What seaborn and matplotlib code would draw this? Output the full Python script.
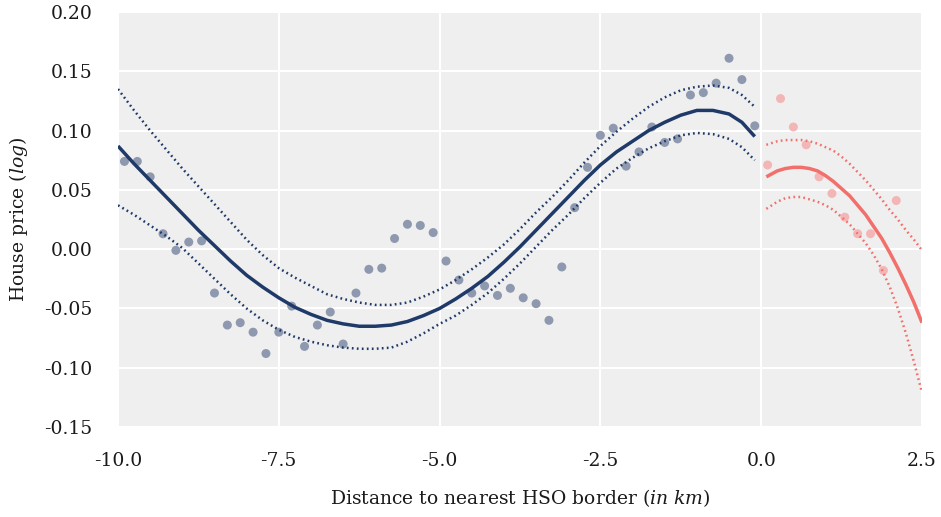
import numpy as np
import pandas as pd
import matplotlib
matplotlib.use("Agg")
import matplotlib.pyplot as plt
import seaborn as sns

# ---------------- data ----------------
left_x = [-9.9, -9.7, -9.5, -9.3, -9.1, -8.9, -8.7, -8.5, -8.3, -8.1,
          -7.9, -7.7, -7.5, -7.3, -7.1, -6.9, -6.7, -6.5, -6.3, -6.1,
          -5.9, -5.7, -5.5, -5.3, -5.1, -4.9, -4.7, -4.5, -4.3, -4.1,
          -3.9, -3.7, -3.5, -3.3, -3.1, -2.9, -2.7, -2.5, -2.3, -2.1,
          -1.9, -1.7, -1.5, -1.3, -1.1, -0.9, -0.7, -0.5, -0.3, -0.1]
left_y = [0.074, 0.074, 0.061, 0.013, -0.001, 0.006, 0.007, -0.037, -0.064, -0.062,
          -0.070, -0.088, -0.070, -0.048, -0.082, -0.064, -0.053, -0.080, -0.037, -0.017,
          -0.016, 0.009, 0.021, 0.020, 0.014, -0.010, -0.026, -0.037, -0.031, -0.039,
          -0.033, -0.041, -0.046, -0.060, -0.015, 0.035, 0.069, 0.096, 0.102, 0.070,
          0.082, 0.103, 0.090, 0.093, 0.130, 0.132, 0.140, 0.161, 0.143, 0.104]

right_x = [0.1, 0.3, 0.5, 0.7, 0.9, 1.1, 1.3, 1.5, 1.7, 1.9, 2.1]
right_y = [0.071, 0.127, 0.103, 0.088, 0.061, 0.047, 0.027, 0.013, 0.013, -0.018, 0.041]

# fitted curve and confidence bounds, left of the border
fit_left_x = [-10.0, -9.75, -9.5, -9.25, -9.0, -8.75, -8.5, -8.25, -8.0, -7.75,
              -7.5, -7.25, -7.0, -6.75, -6.5, -6.25, -6.0, -5.75, -5.5, -5.25,
              -5.0, -4.75, -4.5, -4.25, -4.0, -3.75, -3.5, -3.25, -3.0, -2.75,
              -2.5, -2.25, -2.0, -1.75, -1.5, -1.25, -1.0, -0.75, -0.5, -0.3, -0.1]
fit_left = [0.087, 0.072, 0.058, 0.044, 0.030, 0.016, 0.003, -0.010, -0.022, -0.032,
            -0.041, -0.049, -0.055, -0.060, -0.063, -0.065, -0.065, -0.064, -0.061, -0.056,
            -0.050, -0.042, -0.033, -0.023, -0.011, 0.002, 0.016, 0.030, 0.044, 0.058,
            0.071, 0.082, 0.091, 0.100, 0.107, 0.113, 0.117, 0.117, 0.114, 0.107, 0.095]
upper_left = [0.135, 0.117, 0.100, 0.084, 0.068, 0.053, 0.038, 0.023, 0.008, -0.005,
              -0.016, -0.024, -0.031, -0.038, -0.042, -0.045, -0.047, -0.047, -0.045, -0.040,
              -0.034, -0.026, -0.017, -0.007, 0.004, 0.017, 0.031, 0.044, 0.058, 0.073,
              0.087, 0.099, 0.110, 0.120, 0.128, 0.134, 0.137, 0.138, 0.136, 0.130, 0.120]
lower_left = [0.037, 0.029, 0.020, 0.011, 0.001, -0.012, -0.025, -0.038, -0.050, -0.060,
              -0.068, -0.074, -0.078, -0.081, -0.083, -0.084, -0.084, -0.083, -0.078, -0.071,
              -0.063, -0.056, -0.047, -0.037, -0.025, -0.012, 0.002, 0.016, 0.029, 0.043,
              0.056, 0.068, 0.077, 0.085, 0.091, 0.096, 0.098, 0.097, 0.093, 0.086, 0.075]

# fitted curve and confidence bounds, right of the border
fit_right_x = [0.08, 0.25, 0.375, 0.5, 0.625, 0.75, 0.875, 1.0, 1.125, 1.25, 1.375,
               1.5, 1.625, 1.75, 1.875, 2.0, 2.125, 2.25, 2.375, 2.5]
fit_right = [0.061, 0.066, 0.068, 0.069, 0.069, 0.068, 0.066, 0.062, 0.057, 0.051, 0.045,
             0.037, 0.029, 0.019, 0.009, -0.003, -0.016, -0.030, -0.045, -0.062]
upper_right = [0.088, 0.091, 0.092, 0.092, 0.092, 0.091, 0.089, 0.086, 0.083, 0.078, 0.072,
               0.065, 0.058, 0.050, 0.042, 0.033, 0.025, 0.016, 0.008, -0.001]
lower_right = [0.034, 0.040, 0.043, 0.044, 0.044, 0.042, 0.040, 0.037, 0.033, 0.027, 0.021,
               0.013, 0.005, -0.005, -0.017, -0.032, -0.050, -0.071, -0.095, -0.121]

x_ticks = [-10.0, -7.5, -5.0, -2.5, 0.0, 2.5]
x_tick_labels = ["-10.0", "-7.5", "-5.0", "-2.5", "0.0", "2.5"]
y_ticks = [-0.15, -0.10, -0.05, 0.00, 0.05, 0.10, 0.15, 0.20]
y_tick_labels = ["-0.15", "-0.10", "-0.05", "0.00", "0.05", "0.10", "0.15", "0.20"]

# ---------------- style ----------------
sns.set_theme(style="darkgrid", rc={
    "axes.facecolor": "#efefef",
    "grid.color": "white",
    "grid.linewidth": 1.5,
    "axes.edgecolor": "#efefef",
})
plt.rcParams["font.family"] = ["DejaVu Serif", "Liberation Serif"]
plt.rcParams["mathtext.fontset"] = "custom"
plt.rcParams["mathtext.it"] = "DejaVu Serif:italic"
plt.rcParams["mathtext.rm"] = "DejaVu Serif"
plt.rcParams["axes.unicode_minus"] = False

NAVY = "#1f3a68"
NAVY_PTS = "#7d89a3"
SALMON = "#f2706c"
PINK_PTS = "#f4b0b0"
TXT = "#1a1a1a"

fig = plt.figure(figsize=(9.41, 5.17), dpi=100)
ax = fig.add_axes([0.1254, 0.174, 0.8544, 0.8028])

pts_left = pd.DataFrame({"x": left_x, "y": left_y})
pts_right = pd.DataFrame({"x": right_x, "y": right_y})
curve_left = pd.DataFrame({"x": fit_left_x, "fit": fit_left, "lo": lower_left, "hi": upper_left})
curve_right = pd.DataFrame({"x": fit_right_x, "fit": fit_right, "lo": lower_right, "hi": upper_right})

sns.scatterplot(data=pts_left, x="x", y="y", ax=ax, color=NAVY_PTS, s=42,
                edgecolor="none", alpha=0.85, zorder=2)
sns.scatterplot(data=pts_right, x="x", y="y", ax=ax, color=PINK_PTS, s=42,
                edgecolor="none", alpha=0.9, zorder=2)

dot = (0, (0.7, 1.3))
for df, col in [(curve_left, NAVY), (curve_right, SALMON)]:
    sns.lineplot(data=df, x="x", y="fit", ax=ax, color=col, linewidth=2.5,
                 zorder=3, solid_capstyle="butt", solid_joinstyle="round")
    sns.lineplot(data=df, x="x", y="hi", ax=ax, color=col, linewidth=1.8,
                 linestyle=dot, zorder=3)
    sns.lineplot(data=df, x="x", y="lo", ax=ax, color=col, linewidth=1.8,
                 linestyle=dot, zorder=3)

ax.set_xlim(-10.0, 2.5)
ax.set_ylim(-0.15, 0.20)
ax.set_xticks(x_ticks)
ax.set_xticklabels(x_tick_labels)
ax.set_yticks(y_ticks)
ax.set_yticklabels(y_tick_labels)
ax.tick_params(axis="both", length=0, labelsize=13.5, labelcolor=TXT)
ax.tick_params(axis="x", pad=18)
ax.tick_params(axis="y", pad=18.5)
for s in ax.spines.values():
    s.set_visible(False)

ax.set_xlabel(r"Distance to nearest HSO border $\mathit{(in\ km)}$", fontsize=13.5,
              color=TXT, labelpad=12)
ax.set_ylabel(r"House price $\mathit{(log)}$", fontsize=13.5, color=TXT, labelpad=10)

fig.savefig("out.png", dpi=100, facecolor="white")
